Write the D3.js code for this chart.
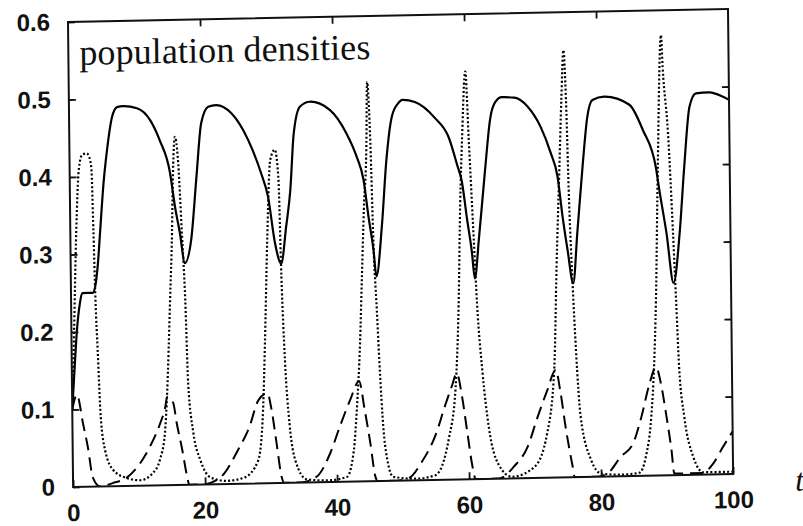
<!DOCTYPE html>
<html>
<head>
<meta charset="utf-8">
<script src="https://cdn.jsdelivr.net/npm/d3@7"></script>
<style>
  body { margin: 0; background: #fff; }
  svg { display: block; }
</style>
</head>
<body>
<svg id="chart" width="803" height="526"></svg>
<script>
// values, [t, density]
const solid = [
  [0,0.10],[0.4,0.15],[0.85,0.203],[1.3,0.235],[1.7,0.25],[2.5,0.25],[3.3,0.25],[3.65,0.257],
  [4.1,0.285],[4.5,0.327],[5.1,0.39],[5.7,0.434],[6.5,0.476],[7.3,0.489],[8.2,0.49],[10.3,0.487],
  [12.3,0.471],[13.7,0.445],[15.2,0.403],[15.9,0.359],[16.6,0.325],[17.3,0.286],
  [18.3,0.316],[19.2,0.397],[20.0,0.466],[21.1,0.487],[22.3,0.489],[24.6,0.478],[27.1,0.443],
  [29.0,0.40],[30.0,0.37],[31.0,0.309],[31.9,0.283],
  [32.7,0.33],[33.4,0.378],[34.0,0.45],[35.0,0.485],[36.5,0.491],[39.5,0.48],[42.0,0.449],
  [43.5,0.419],[44.5,0.389],[45.2,0.341],[45.9,0.298],[46.3,0.264],
  [47.2,0.328],[48.0,0.414],[48.9,0.47],[49.9,0.487],[50.5,0.491],[52.4,0.488],[55.4,0.467],
  [57.5,0.441],[58.7,0.406],[59.4,0.384],[60.1,0.337],[60.8,0.293],[61.2,0.259],
  [61.9,0.311],[62.9,0.396],[63.8,0.465],[64.6,0.486],[65.6,0.492],[67.5,0.491],[69.5,0.479],
  [71.4,0.453],[72.9,0.419],[73.9,0.388],[74.6,0.336],[75.3,0.293],[76.1,0.25],
  [76.8,0.315],[77.7,0.40],[78.5,0.464],[79.3,0.486],[81.1,0.49],[84.9,0.479],[86.9,0.446],
  [88.8,0.398],[89.3,0.368],[90.3,0.313],[91.3,0.248],
  [92.3,0.312],[93.1,0.397],[94.0,0.475],[95.0,0.492],[97.0,0.493],[99.1,0.487],[100,0.483]
];

const dotted = [
  [0,0.10],[0.4,0.2],[0.9,0.33],[1.4,0.41],[1.9,0.428],[2.6,0.43],[3.0,0.425],[3.3,0.41],
  [3.5,0.33],[3.7,0.24],[3.95,0.176],[4.3,0.09],[4.9,0.047],[6.1,0.021],[8.2,0.01],[10.2,0.007],
  [12.1,0.016],[13.2,0.033],[14.0,0.067],[14.4,0.119],[15.0,0.239],[15.4,0.325],[15.6,0.39],
  [16.0,0.449],[16.4,0.423],[16.9,0.325],[17.3,0.238],[17.6,0.131],[18.3,0.067],[19.3,0.032],
  [20.8,0.009],[23.3,0.004],[26.0,0.008],[28.1,0.03],[28.9,0.094],[29.3,0.181],[29.8,0.31],
  [30.4,0.417],[31.1,0.43],[31.6,0.395],[31.9,0.266],[32.3,0.158],[32.9,0.075],[33.7,0.029],
  [35.4,0.004],[38.5,0.002],[41.5,0.006],[42.6,0.041],[43.1,0.092],[43.7,0.178],[44.1,0.264],
  [44.5,0.35],[45.0,0.436],[45.2,0.515],[45.6,0.436],[45.9,0.307],[46.3,0.221],[46.7,0.134],
  [47.3,0.048],[48.5,0.005],[52.0,0.002],[54.9,0.006],[57.0,0.053],[58.1,0.118],[58.7,0.225],
  [59.1,0.354],[59.5,0.44],[60.1,0.526],[60.5,0.44],[61.1,0.31],[61.5,0.225],[62.2,0.138],
  [63.1,0.065],[64.5,0.018],[66.5,0.002],[69.9,0.014],[71.9,0.057],[73.1,0.143],[73.6,0.272],
  [74.2,0.401],[74.6,0.487],[75.0,0.551],[75.3,0.487],[75.6,0.358],[76.0,0.25],[76.4,0.164],
  [77.0,0.078],[78.5,0.022],[80.0,0.004],[83.0,0.002],[85.8,0.004],[86.8,0.024],[87.7,0.076],
  [88.2,0.14],[88.6,0.226],[89.1,0.398],[89.8,0.568],[90.0,0.527],[90.7,0.442],[91.3,0.312],
  [91.65,0.226],[92.0,0.139],[92.7,0.075],[94.0,0.023],[95.5,0.003],[100,0.003]
];

const dashed = [
  [0,0.10],[0.74,0.119],[1.6,0.082],[2.3,0.051],[3.0,0.012],[4.1,0.0],[6.0,0.004],[8.2,0.011],
  [10.2,0.029],[11.7,0.05],[13.3,0.08],[14.1,0.101],[14.4,0.114],[15.3,0.106],[15.8,0.08],
  [16.6,0.045],[17.3,0.01],[17.6,0.0],[19.7,0.0],[22.5,0.01],[25.0,0.043],[26.8,0.073],
  [28.2,0.107],[29.6,0.116],[30.2,0.094],[30.9,0.051],[31.6,0.008],[32.0,0.0],[34.5,0.0],
  [36.9,0.007],[39.0,0.037],[40.5,0.071],[42.1,0.105],[43.5,0.129],[44.3,0.092],[45.1,0.049],
  [45.8,0.006],[46.1,0.0],[49.0,0.0],[50.9,0.003],[52.9,0.024],[55.0,0.058],[56.5,0.096],
  [57.6,0.122],[58.3,0.137],[59.1,0.105],[59.8,0.061],[60.5,0.018],[61.0,0.0],[64.5,0.0],
  [66.8,0.015],[68.9,0.04],[70.5,0.079],[72.0,0.113],[73.3,0.139],[74.0,0.109],[74.7,0.065],
  [75.7,0.014],[76.0,0.0],[79.5,0.0],[81.0,0.004],[83.0,0.025],[84.9,0.042],[86.2,0.076],
  [87.5,0.119],[88.5,0.14],[89.2,0.119],[90.0,0.076],[90.7,0.033],[91.1,0.002],[95.4,0.002],
  [97.0,0.014],[98.5,0.035],[100,0.055]
];

const xTicks = [0, 20, 40, 60, 80, 100];
const yTicks = [0, 0.1, 0.2, 0.3, 0.4, 0.5, 0.6];
const title = "population densities";
const xName = "t";

const svg = d3.select("#chart");
const W = 660, H = 465;

// the scan sits a little crooked on the page
const g = svg.append("g")
  .attr("transform", "matrix(1,-0.0197,0.011,1,68,22)");

const x = d3.scaleLinear().domain([0, 100]).range([0, W]);
const y = d3.scaleLinear().domain([0, 0.6]).range([H, 0]);

g.append("clipPath").attr("id", "plot")
  .append("rect").attr("width", W).attr("height", H);

const line = d3.line()
  .x(d => x(d[0]))
  .y(d => y(d[1]))
  .curve(d3.curveMonotoneX);

const curves = g.append("g").attr("clip-path", "url(#plot)")
  .attr("fill", "none").attr("stroke", "#000");

curves.append("path").datum(dashed)
  .attr("d", line)
  .attr("stroke-width", 2)
  .attr("stroke-dasharray", "13,7");

curves.append("path").datum(dotted)
  .attr("d", line)
  .attr("stroke-width", 2.2)
  .attr("stroke-dasharray", "2,2.2");

curves.append("path").datum(solid)
  .attr("d", line)
  .attr("stroke-width", 2.2)
  .attr("stroke-linejoin", "round");

// axes, ticks point inward
const fmt = d => d === 0 ? "0" : d.toFixed(1);

g.append("g")
  .call(d3.axisLeft(y).tickValues(yTicks).tickSizeInner(-7).tickSizeOuter(0)
    .tickPadding(18).tickFormat(fmt));

g.append("g").attr("transform", `translate(0,${H})`)
  .call(d3.axisBottom(x).tickValues(xTicks).tickSizeInner(-7).tickSizeOuter(0)
    .tickPadding(17));

g.append("g").attr("transform", `translate(${W},0)`)
  .call(d3.axisRight(y).tickValues(yTicks.slice(1, -1)).tickSizeInner(-7)
    .tickSizeOuter(0).tickFormat(""));

g.append("g")
  .call(d3.axisTop(x).tickValues(xTicks.slice(1, -1)).tickSizeInner(-7)
    .tickSizeOuter(0).tickFormat(""));

g.selectAll(".domain").remove();
g.selectAll(".tick line").attr("stroke", "#111").attr("stroke-width", 1.8);
g.selectAll(".tick text")
  .attr("fill", "#111")
  .style("font-family", "'Liberation Sans', Arial, sans-serif")
  .style("font-weight", "bold")
  .style("font-size", "24px");

g.append("rect")
  .attr("width", W).attr("height", H)
  .attr("fill", "none").attr("stroke", "#111").attr("stroke-width", 2);

g.append("text")
  .attr("x", 11).attr("y", 43)
  .attr("textLength", 291)
  .attr("lengthAdjust", "spacing")
  .style("font-family", "'Liberation Serif', 'Times New Roman', serif")
  .style("font-size", "36px")
  .attr("fill", "#111")
  .text(title);

g.append("text")
  .attr("x", 722).attr("y", 483)
  .style("font-family", "'Liberation Serif', 'Times New Roman', serif")
  .style("font-style", "italic")
  .style("font-size", "32px")
  .attr("fill", "#111")
  .text(xName);
</script>
</body>
</html>
